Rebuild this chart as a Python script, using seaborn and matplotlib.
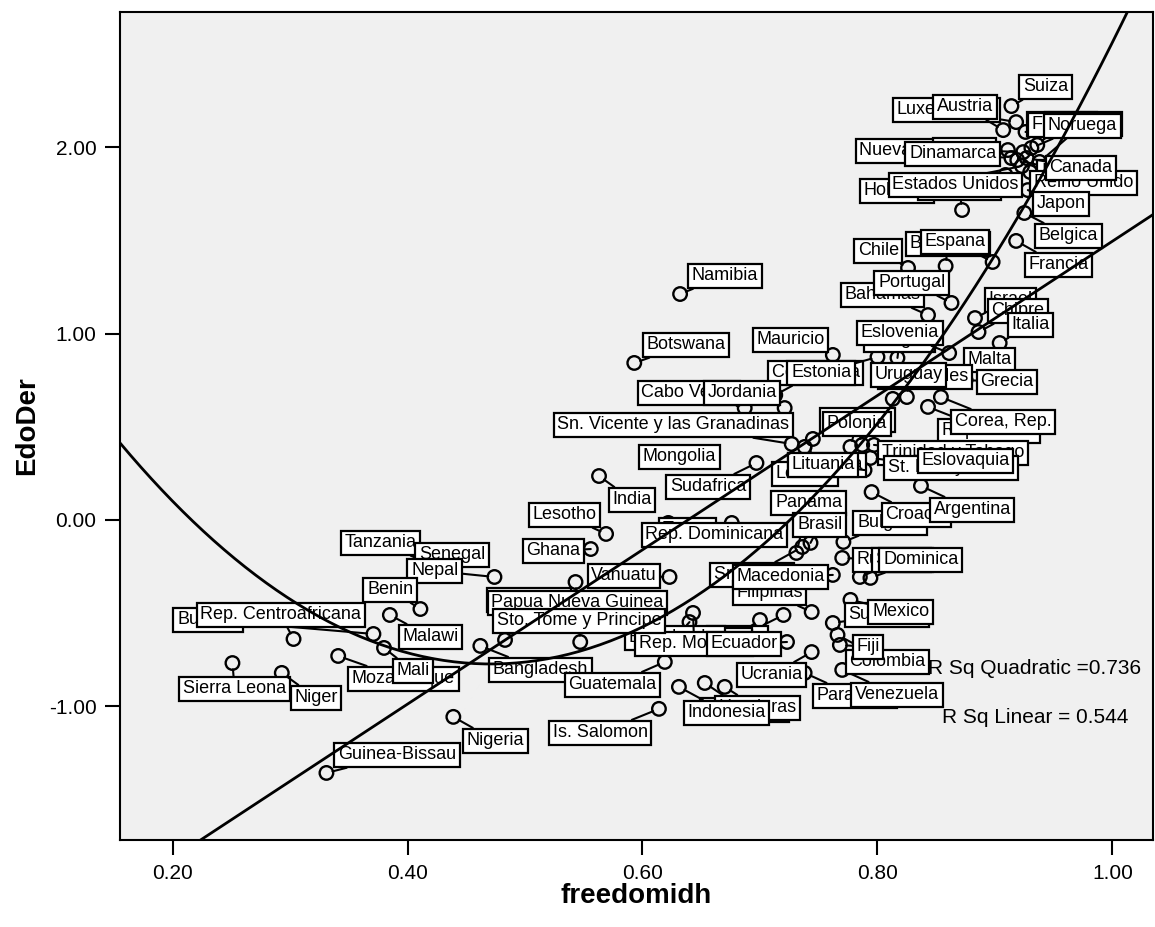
import numpy as np
import pandas as pd
import matplotlib
matplotlib.use("Agg")
import matplotlib.pyplot as plt
import seaborn as sns

# países (orden = orden de dibujo de las etiquetas)
pais = [
    "Luxemburgo", "Austria", "Suiza", "Islandia", "Finlandia", "Australia", "Noruega",
    "Nueva Zelanda", "Suecia", "Dinamarca", "Irlanda", "Reino Unido", "Canada",
    "Holanda", "Alemania", "Estados Unidos", "Japon", "Belgica", "Francia",
    "Chile", "Barbados", "Espana", "Bahamas", "Portugal", "Israel", "Chipre", "Italia",
    "Hungria", "Eslovenia", "Malta", "Grecia", "Mauricio", "Costa Rica", "Estonia",
    "Seychelles", "Uruguay", "Rep. Checa", "Corea, Rep.", "Cabo Verde", "Jordania",
    "Sn. Vicente y las Granadinas", "Letonia", "Tailandia", "Jamaica", "Polonia",
    "Trinidad y Tobago", "St. Kitts y Nevis", "Eslovaquia", "Lituania",
    "Bulgaria", "Croacia", "Argentina", "Panama", "Brasil", "Sri Lanka", "Rumania",
    "Serbia", "Dominica", "Filipinas", "Macedonia", "Bolivia", "Peru",
    "El Salvador", "Rep. Moldova", "Ecuador", "Ucrania", "Paraguay", "Venezuela",
    "Suriname", "Mexico", "Colombia", "Fiji", "Nicaragua", "Honduras", "Indonesia",
    "Bangladesh", "Guatemala", "Is. Salomon", "Vanuatu", "Camboya",
    "Papua Nueva Guinea", "Sto. Tome y Principe", "Tanzania", "Senegal", "Nepal",
    "Benin", "Malawi", "Burundi", "Rep. Centroafricana", "Mozambique", "Mali",
    "Sierra Leona", "Niger", "Nigeria", "Guinea-Bissau", "Ghana", "Lesotho",
    "India", "Mongolia", "Sudafrica", "Tunez", "Rep. Dominicana", "Botswana",
    "Namibia",
]

freedomidh = [
    0.918, 0.907, 0.914, 0.936, 0.926, 0.938, 0.931,
    0.911, 0.924, 0.914, 0.919, 0.930, 0.927,
    0.923, 0.872, 0.909, 0.928, 0.925, 0.918,
    0.826, 0.858, 0.898, 0.843, 0.863, 0.883, 0.886, 0.904,
    0.817, 0.861, 0.865, 0.875, 0.762, 0.713, 0.800,
    0.813, 0.825, 0.843, 0.854, 0.687, 0.721,
    0.727, 0.745, 0.738, 0.777, 0.787,
    0.797, 0.794, 0.826, 0.789,
    0.771, 0.795, 0.837, 0.731, 0.743, 0.736, 0.770,
    0.785, 0.794, 0.744, 0.762, 0.720, 0.700,
    0.640, 0.643, 0.723, 0.744, 0.738, 0.770,
    0.762, 0.777, 0.766, 0.768, 0.653, 0.670, 0.631,
    0.462, 0.619, 0.614, 0.623, 0.483,
    0.543, 0.547, 0.415, 0.416, 0.474,
    0.411, 0.385, 0.371, 0.303, 0.341, 0.380,
    0.251, 0.293, 0.439, 0.331, 0.556, 0.569,
    0.563, 0.649, 0.697, 0.622, 0.676, 0.593,
    0.632,
]

edoder = [
    2.136, 2.093, 2.222, 2.013, 2.083, 1.922, 1.997,
    1.986, 1.975, 1.943, 1.932, 1.868, 1.943,
    1.900, 1.664, 1.852, 1.771, 1.648, 1.498,
    1.353, 1.363, 1.385, 1.100, 1.165, 1.084, 1.009, 0.950,
    0.870, 0.896, 0.751, 0.751, 0.886, 0.671, 0.875,
    0.650, 0.660, 0.607, 0.660, 0.601, 0.601,
    0.408, 0.435, 0.392, 0.392, 0.403,
    0.403, 0.333, 0.349, 0.268,
    -0.118, 0.150, 0.183, -0.177, -0.123, -0.145, -0.204,
    -0.306, -0.311, -0.494, -0.295, -0.510, -0.537,
    -0.548, -0.499, -0.655, -0.709, -0.821, -0.805,
    -0.553, -0.429, -0.617, -0.671, -0.875, -0.896, -0.896,
    -0.676, -0.762, -1.014, -0.306, -0.644,
    -0.333, -0.655, -0.225, -0.279, -0.306,
    -0.478, -0.510, -0.612, -0.639, -0.730, -0.687,
    -0.768, -0.821, -1.057, -1.358, -0.156, -0.075,
    0.236, 0.349, 0.306, -0.016, -0.016, 0.843,
    1.213,
]

# posición de cada caja (esquina inferior izquierda) respecto a su punto, en píxeles
label_dx = [
    -123, -70, 8, -10, 2, 5, 13,
    -152, -90, -106, 20, 0, 19,
    -162, -44, -117, 5, 11, 9,
    -54, -40, -72, -87, -77, 10, 9, 8,
    -33, -92, 10, 11, -80, -7, -90,
    -15, -36, 10, 10, -107, -81,
    -238, -41, -17, -30, -39,
    4, 14, 10, -77,
    10, 10, 9, -25, -17, -92, 11,
    12, 9, -79, -100, -76, -53,
    -64, -58, -80, -75, 8, 9,
    12, 18, 8, 13, -5, -10, 5,
    9, -100, -110, -82, -18,
    -88, -87, -84, -11, -87,
    -57, 9, -200, -97, 10, 9,
    -53, 9, 10, 8, -68, -77,
    10, -61, -90, -9, -90, 9,
    8,
]
label_dy = [
    0, 11, 7, 9, -5, 26, 10,
    -13, -10, -8, -24, -23, -22,
    -37, 10, -22, -26, -35, -36,
    5, 10, 8, 8, 8, 6, 9, 6,
    6, 8, 8, -14, 3, 10, -28,
    10, 10, -36, -37, 3, 3,
    7, -47, -30, 15, 9,
    -20, -22, -18, -7,
    7, -35, -36, 38, 6, -40, -14,
    5, 6, 7, -14, -35, -32,
    -28, -43, -14, -35, -35, -37,
    -4, -24, -39, -14, -39, -33, -38,
    -36, -35, -36, -11, 28,
    -33, 9, 7, 5, -6,
    7, -34, 2, 12, -35, -35,
    -38, -37, -36, 6, -14, 7,
    -36, -14, -36, -19, -24, 6,
    6,
]

df = pd.DataFrame({"pais": pais, "freedomidh": freedomidh, "EdoDer": edoder})

plt.rcParams["font.family"] = ["Liberation Sans", "DejaVu Sans"]

fig = plt.figure(figsize=(11.55, 9.27), dpi=100)
ax = fig.add_axes([120 / 1155, 1 - 840 / 927, 1033 / 1155, 828 / 927])
ax.set_facecolor("#f0f0f0")
ax.set_xlim(0.1553, 1.0345)
ax.set_ylim(-1.718, 2.727)

sns.scatterplot(data=df, x="freedomidh", y="EdoDer", ax=ax, s=95,
                facecolor="none", edgecolor="black", linewidth=1.7, zorder=2)

pad = 3.6
for i, row in df.iterrows():
    ax.annotate(row["pais"], xy=(row["freedomidh"], row["EdoDer"]),
                xytext=(label_dx[i] + pad, label_dy[i] + pad),
                textcoords="offset pixels", ha="left", va="bottom",
                fontsize=13, zorder=3,
                bbox=dict(boxstyle="square,pad=0.2", fc="white", ec="black", lw=1.6),
                arrowprops=dict(arrowstyle="-", color="black", lw=1.5,
                                shrinkA=0, shrinkB=4.5))

# ajustes lineal y cuadrático
sns.regplot(data=df, x="freedomidh", y="EdoDer", ax=ax, order=1, scatter=False,
            ci=None, truncate=False, line_kws=dict(color="black", lw=2, zorder=4))
sns.regplot(data=df, x="freedomidh", y="EdoDer", ax=ax, order=2, scatter=False,
            ci=None, truncate=False, line_kws=dict(color="black", lw=2, zorder=4))
ax.set_xlim(0.1553, 1.0345)
ax.set_ylim(-1.718, 2.727)

ax.text(0.843, -0.80, "R Sq Quadratic =0.736", fontsize=15, va="center", ha="left", zorder=5)
ax.text(0.855, -1.063, "R Sq Linear = 0.544", fontsize=15, va="center", ha="left", zorder=5)

ax.set_xticks([0.2, 0.4, 0.6, 0.8, 1.0])
ax.set_xticklabels(["0.20", "0.40", "0.60", "0.80", "1.00"])
ax.set_yticks([-1.0, 0.0, 1.0, 2.0])
ax.set_yticklabels(["-1.00", "0.00", "1.00", "2.00"])
ax.tick_params(direction="out", length=11, width=1.5, labelsize=15, pad=6)
for sp in ax.spines.values():
    sp.set_linewidth(1.5)
    sp.set_color("black")

ax.set_xlabel("freedomidh", fontsize=20, fontweight="bold", labelpad=0)
ax.set_ylabel("EdoDer", fontsize=20, fontweight="bold", labelpad=6)

fig.savefig("out.png", dpi=100)
